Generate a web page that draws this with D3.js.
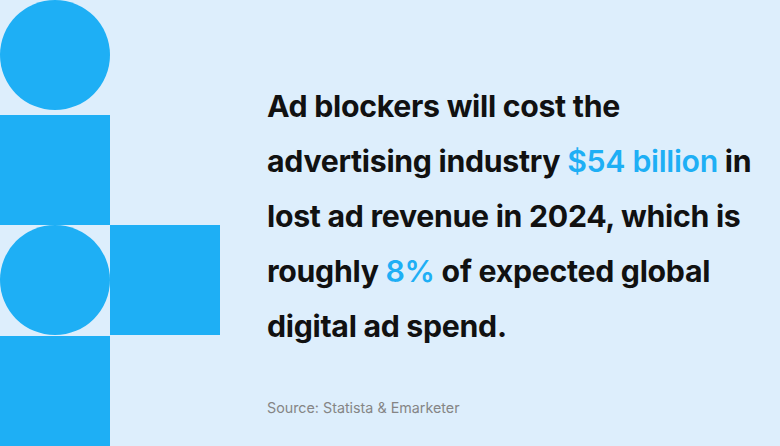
<!DOCTYPE html>
<html><head><meta charset="utf-8">
<script src="https://cdn.jsdelivr.net/npm/d3@7"></script>
<style>html,body{margin:0;padding:0;background:#ddeefc;}svg{display:block;}</style>
</head><body>
<svg id="c" width="780" height="446"></svg>
<script>
// Decorative shapes: grid cells (col,row) and kinds
const shapeKinds = ["circle","square","circle","square","square"];
const shapeCols  = [0, 0, 0, 1, 0];
const shapeRows  = [0, 1, 2, 2, 3];
// Headline lines, as segments [text, highlighted]
const lines = [
  [["Ad blockers will cost the", false]],
  [["advertising industry ", false], ["$54 billion", true], [" in", false]],
  [["lost ad revenue in 2024, which is", false]],
  [["roughly ", false], ["8%", true], [" of expected global", false]],
  [["digital ad spend.", false]]
];
const source = "Source: Statista & Emarketer";

const svg = d3.select("#c");
const W = 780, H = 446;
svg.append("rect").attr("width", W).attr("height", H).attr("fill", "#ddeefc");

const cell = 110;
const x = d3.scaleLinear().domain([0, 1]).range([0, cell]);
const yPos = [0, 115, 225, 336];
const blue = "#1eaff5";
const g = svg.append("g");
shapeKinds.forEach((k, i) => {
  const x0 = x(shapeCols[i]), y0 = yPos[shapeRows[i]];
  if (k === "circle") {
    g.append("circle").attr("cx", x0 + cell / 2).attr("cy", y0 + cell / 2).attr("r", cell / 2).attr("fill", blue);
  } else {
    g.append("rect").attr("x", x0).attr("y", y0).attr("width", cell).attr("height", cell).attr("fill", blue);
  }
});

const tx = 267;
const baseline0 = 117, lh = 55;
const font = "Inter, 'DejaVu Sans', sans-serif";
const head = svg.append("g");
lines.forEach((segs, i) => {
  const t = head.append("text").attr("x", tx).attr("y", baseline0 + i * lh)
    .attr("font-family", font).attr("font-weight", 700).attr("font-size", 26.5)
    .attr("letter-spacing", "-0.3").attr("xml:space", "preserve");
  segs.forEach(([s, hl]) => {
    t.append("tspan").text(s).attr("fill", hl ? blue : "#111111").attr("font-weight", hl ? 600 : 700);
  });
});
// fit line 2 to target width
const targetW = 750 - 267;
const l2 = head.selectAll("text").nodes()[1];
const w2 = l2.getComputedTextLength();
const fs = 26.5 * targetW / w2;
head.selectAll("text").attr("font-size", fs);

svg.append("text").attr("x", tx).attr("y", 413).attr("font-family", font)
  .attr("font-size", 14.3).attr("fill", "#858585").text(source);
</script>
</body></html>
